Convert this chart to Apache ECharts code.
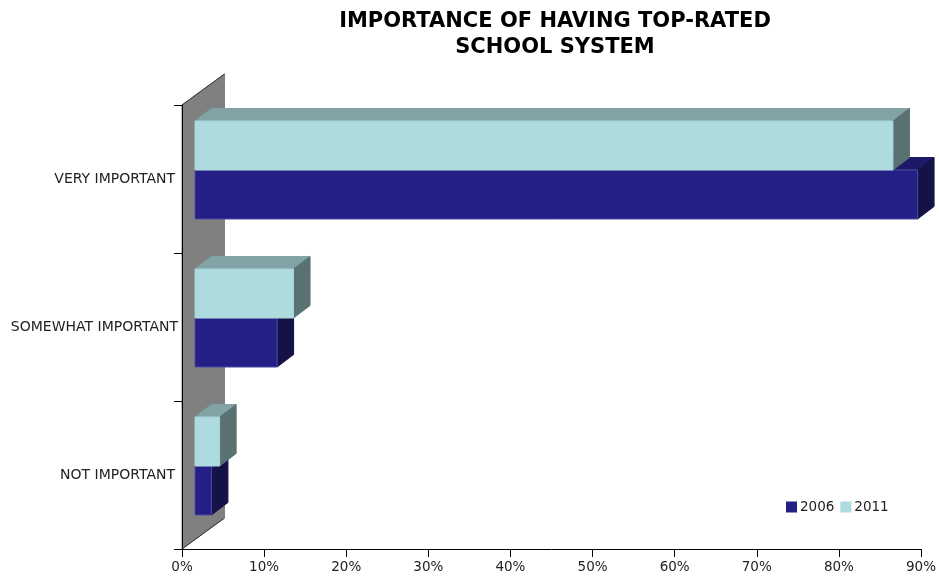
<!DOCTYPE html>
<html>
<head>
<meta charset="utf-8">
<style>html,body{margin:0;padding:0;background:#fff}#c{width:939px;height:576px}</style>
<script src="https://cdn.jsdelivr.net/npm/echarts@6/dist/echarts.min.js"></script>
</head>
<body>
<div id="c"></div>
<script>
var categories = ['NOT IMPORTANT', 'SOMEWHAT IMPORTANT', 'VERY IMPORTANT'];
var values2006 = [2, 10, 88];
var values2011 = [3, 12, 85];
var xTicks = {min: 0, max: 90, step: 10};

var FONT = '"DejaVu Sans", Verdana, sans-serif';
var DX = 16.5, DY = 12.5, ORIGIN_DX = 13, BASE_SHIFT = 9, THICK = 49;
var WALL_DX = 42.5, WALL_DY = 31;

function poly(points, fill, stroke) {
  return {type: 'polygon', shape: {points: points},
    style: {fill: fill, stroke: stroke || fill, lineWidth: 1}};
}
function barRenderer(dir, front, top, side, edge) {
  return function (params, api) {
    var base = api.coord([0, api.value(1)]);
    var end = api.coord([api.value(0), api.value(1)]);
    var x0 = base[0] + ORIGIN_DX, x1 = end[0] + ORIGIN_DX;
    var mid = base[1] - BASE_SHIFT;
    var y0 = dir < 0 ? mid - THICK : mid, y1 = dir < 0 ? mid : mid + THICK;
    return {type: 'group', children: [
      poly([[x0, y0], [x1, y0], [x1 + DX, y0 - DY], [x0 + DX, y0 - DY]], top),
      poly([[x1, y0], [x1 + DX, y0 - DY], [x1 + DX, y1 - DY], [x1, y1]], side),
      poly([[x0, y0], [x1, y0], [x1, y1], [x0, y1]], front, edge)
    ]};
  };
}

function wall(params, api) {
  var c = params.coordSys;
  var l = c.x, t = c.y, b = c.y + c.height;
  return {type: 'group', children: [
    poly([[l, t], [l + WALL_DX, t - WALL_DY], [l + WALL_DX, b - WALL_DY], [l, b]], '#808080'),
    {type: 'line', shape: {x1: l, y1: t, x2: l + WALL_DX, y2: t - WALL_DY}, style: {stroke: '#333', lineWidth: 1}},
    {type: 'line', shape: {x1: l, y1: b, x2: l + WALL_DX, y2: b - WALL_DY}, style: {stroke: '#333', lineWidth: 1}}
  ]};
}
function rows(vals) { return vals.map(function (v, i) { return [v, i]; }); }

var chart = echarts.init(document.getElementById('c'), null, {renderer: 'canvas'});
chart.setOption({
  animation: false,
  backgroundColor: '#fff',
  title: {
    text: 'IMPORTANCE OF HAVING TOP-RATED\nSCHOOL SYSTEM',
    left: 550, top: 4, textAlign: 'center',
    textStyle: {fontFamily: FONT, fontSize: 21, fontWeight: 'bold', color: '#000', lineHeight: 26}
  },
  legend: {
    data: ['2006', '2011'], left: 781, top: 495, itemWidth: 11, itemHeight: 11, itemGap: 6,
    icon: 'rect',
    textStyle: {fontFamily: FONT, fontSize: 13.5, color: '#222', padding: [0, 0, 0, -2]}
  },
  grid: {left: 182, right: 17, top: 105, bottom: 27},
  xAxis: {
    type: 'value', min: xTicks.min, max: xTicks.max, interval: xTicks.step, z: 10,
    splitLine: {show: false},
    axisLine: {show: true, lineStyle: {color: '#000'}},
    axisTick: {show: true, length: 8, lineStyle: {color: '#000'}},
    axisLabel: {formatter: '{value}%', fontFamily: FONT, fontSize: 13.5, color: '#222', margin: 11}
  },
  yAxis: {
    type: 'category', z: 10,
    data: categories.map(function (name) {
      return name.length > 15 ? {value: name, textStyle: {padding: [2, -3, 0, 0]}} : name;
    }),
    axisLine: {show: true, lineStyle: {color: '#000'}},
    axisTick: {show: true, length: 8, alignWithLabel: false, lineStyle: {color: '#000'}},
    axisLabel: {interval: 0, fontFamily: FONT, fontSize: 14, color: '#222', margin: 7, padding: [2, 0, 0, 0]}
  },
  series: [
    {type: 'custom', silent: true, z: 1, coordinateSystem: 'cartesian2d', data: [[0, 0]], renderItem: wall, clip: false},
    {type: 'custom', name: '2006', z: 2, data: rows(values2006), clip: false,
      encode: {x: 0, y: 1}, itemStyle: {color: '#231F85'},
      renderItem: barRenderer(1, '#231F85', '#1C1969', '#151247', '#4E4BA0')},
    {type: 'custom', name: '2011', z: 3, data: rows(values2011), clip: false,
      encode: {x: 0, y: 1}, itemStyle: {color: '#AEDBDD'},
      renderItem: barRenderer(-1, '#AEDBDD', '#82A3A5', '#5A7172', '#A8D4D8')}
  ]
});
</script>
</body>
</html>
